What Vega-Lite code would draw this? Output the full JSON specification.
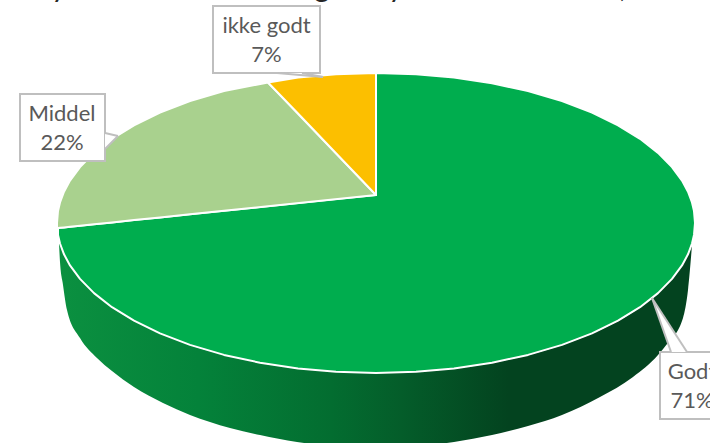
{"$schema":"https://vega.github.io/schema/vega-lite/v6.json","autosize":{"type":"fit","contains":"padding"},"width":710,"height":443,"padding":0,"background":"white","view":{"stroke":null},"config":{"axis":{"disable":true},"legend":{"disable":true}},"datasets":{"side":[{"x":59,"top":243,"bottom":243},{"x":60,"top":243.5,"bottom":262},{"x":63,"top":251,"bottom":285},{"x":67,"top":260,"bottom":310},{"x":80,"top":278.9,"bottom":338},{"x":97,"top":295,"bottom":358},{"x":112,"top":307.2,"bottom":371},{"x":134,"top":320.7,"bottom":387},{"x":163,"top":334.5,"bottom":403},{"x":190,"top":344.9,"bottom":415},{"x":230,"top":356,"bottom":428},{"x":260,"top":362.7,"bottom":435},{"x":297,"top":368.3,"bottom":442},{"x":336,"top":371.8,"bottom":446},{"x":376,"top":373,"bottom":447},{"x":416,"top":371.8,"bottom":446},{"x":454,"top":368.4,"bottom":442},{"x":492,"top":362.7,"bottom":435},{"x":528,"top":354.9,"bottom":426},{"x":562,"top":344.9,"bottom":415},{"x":600,"top":330,"bottom":397},{"x":633,"top":312,"bottom":377},{"x":658,"top":293.1,"bottom":355},{"x":667,"top":284,"bottom":344},{"x":683,"top":263,"bottom":318},{"x":688,"top":254.3,"bottom":290},{"x":692,"top":245,"bottom":245}],"slices":[{"category":"Godt","x":58,"top":228,"bottom":235},{"category":"Godt","x":60,"top":227.8,"bottom":243.5},{"category":"Godt","x":64,"top":227.4,"bottom":254.3},{"category":"Godt","x":70,"top":226.8,"bottom":265.4},{"category":"Godt","x":80,"top":225.7,"bottom":278.9},{"category":"Godt","x":94,"top":224.3,"bottom":293.1},{"category":"Godt","x":112,"top":222.4,"bottom":307.2},{"category":"Godt","x":134,"top":220.1,"bottom":320.7},{"category":"Godt","x":160,"top":217.4,"bottom":333.4},{"category":"Godt","x":190,"top":214.3,"bottom":344.9},{"category":"Godt","x":224,"top":210.8,"bottom":354.9},{"category":"Godt","x":260,"top":207.1,"bottom":362.7},{"category":"Godt","x":298,"top":203.1,"bottom":368.4},{"category":"Godt","x":336,"top":199.1,"bottom":371.8},{"category":"Godt","x":376,"top":195,"bottom":373},{"category":"Godt","x":376,"top":73,"bottom":373},{"category":"Godt","x":416,"top":74.2,"bottom":371.8},{"category":"Godt","x":454,"top":77.6,"bottom":368.4},{"category":"Godt","x":492,"top":83.3,"bottom":362.7},{"category":"Godt","x":528,"top":91.1,"bottom":354.9},{"category":"Godt","x":562,"top":101.1,"bottom":344.9},{"category":"Godt","x":592,"top":112.6,"bottom":333.4},{"category":"Godt","x":618,"top":125.3,"bottom":320.7},{"category":"Godt","x":640,"top":138.8,"bottom":307.2},{"category":"Godt","x":658,"top":152.9,"bottom":293.1},{"category":"Godt","x":672,"top":167.1,"bottom":278.9},{"category":"Godt","x":682,"top":180.6,"bottom":265.4},{"category":"Godt","x":688,"top":191.7,"bottom":254.3},{"category":"Godt","x":692,"top":202.5,"bottom":243.5},{"category":"Godt","x":694,"top":211.1,"bottom":234.9},{"category":"Godt","x":695,"top":223,"bottom":223},{"category":"Middel","x":57,"top":223,"bottom":228},{"category":"Middel","x":58,"top":211,"bottom":228},{"category":"Middel","x":60,"top":202.5,"bottom":227.8},{"category":"Middel","x":64,"top":191.7,"bottom":227.4},{"category":"Middel","x":70,"top":180.6,"bottom":226.8},{"category":"Middel","x":80,"top":167.1,"bottom":225.7},{"category":"Middel","x":94,"top":152.9,"bottom":224.3},{"category":"Middel","x":112,"top":138.8,"bottom":222.4},{"category":"Middel","x":134,"top":125.3,"bottom":220.1},{"category":"Middel","x":160,"top":112.6,"bottom":217.4},{"category":"Middel","x":190,"top":101.1,"bottom":214.3},{"category":"Middel","x":224,"top":91.1,"bottom":210.8},{"category":"Middel","x":268,"top":82.5,"bottom":206.2},{"category":"Middel","x":376,"top":195,"bottom":195},{"category":"ikke godt","x":268,"top":82.5,"bottom":82.5},{"category":"ikke godt","x":298,"top":77.6,"bottom":113.4},{"category":"ikke godt","x":336,"top":74.2,"bottom":153.2},{"category":"ikke godt","x":376,"top":73,"bottom":195}],"boxes":[{"category":"ikke godt","share":7,"label":"ikke godt\n7%","left":213,"right":320,"top":6,"bottom":73,"cx":266.5,"cy":26},{"category":"Middel","share":22,"label":"Middel\n22%","left":20,"right":105,"top":94,"bottom":161,"cx":62,"cy":114},{"category":"Godt","share":71,"label":"Godt\n71%","left":660,"right":724,"top":352,"bottom":419,"cx":692,"cy":372}],"pointers":[{"category":"ikke godt","x":277,"top":73,"bottom":73},{"category":"ikke godt","x":302,"top":73,"bottom":75},{"category":"ikke godt","x":323,"top":77,"bottom":77},{"category":"Middel","x":105,"top":133,"bottom":149},{"category":"Middel","x":118,"top":136,"bottom":136},{"category":"Godt","x":652,"top":298,"bottom":298},{"category":"Godt","x":671,"top":327,"bottom":352},{"category":"Godt","x":687,"top":352,"bottom":352}],"leaders":[{"edge":"a","x":277,"y":73},{"edge":"a","x":323,"y":77},{"edge":"b","x":302,"y":73},{"edge":"b","x":323,"y":77},{"edge":"c","x":105,"y":133},{"edge":"c","x":118,"y":136},{"edge":"d","x":105,"y":149},{"edge":"d","x":118,"y":136},{"edge":"e","x":652,"y":298},{"edge":"e","x":671,"y":352},{"edge":"f","x":652,"y":298},{"edge":"f","x":687,"y":352}],"titleBits":[{"t":"y","x":59,"y":-3},{"t":"g","x":322,"y":-3},{"t":"y","x":396,"y":-3},{"t":",","x":623,"y":-3}]},"encoding":{"x":{"type":"quantitative","scale":{"domain":[0,710],"nice":false,"zero":false},"axis":null},"y":{"type":"quantitative","scale":{"domain":[443,0],"nice":false,"zero":false},"axis":null}},"layer":[{"data":{"name":"titleBits"},"mark":{"type":"text","font":"Lato","fontSize":30,"color":"#262626","align":"center","baseline":"alphabetic","clip":true},"encoding":{"x":{"field":"x"},"y":{"field":"y"},"text":{"field":"t"}}},{"data":{"name":"side"},"mark":{"type":"area","orient":"vertical","clip":true,"interpolate":"monotone","color":{"gradient":"linear","x1":0,"y1":0,"x2":1,"y2":0,"stops":[{"offset":0,"color":"#0b9040"},{"offset":0.22,"color":"#04823a"},{"offset":0.43,"color":"#036d30"},{"offset":0.54,"color":"#045d2a"},{"offset":0.71,"color":"#03431f"},{"offset":1,"color":"#03431f"}]}},"encoding":{"x":{"field":"x"},"y":{"field":"top"},"y2":{"field":"bottom"}}},{"data":{"name":"slices"},"mark":{"type":"area","orient":"vertical","clip":true,"stroke":"white","strokeWidth":2,"strokeJoin":"round"},"encoding":{"x":{"field":"x"},"y":{"field":"top"},"y2":{"field":"bottom"},"color":{"field":"category","type":"nominal","legend":null,"scale":{"domain":["Godt","Middel","ikke godt"],"range":["#00ad4e","#a9d18e","#fcbf00"]}},"order":{"field":"category"}}},{"data":{"name":"boxes"},"mark":{"type":"rect","clip":true,"fill":"white","stroke":"#bfbfbf","strokeWidth":2},"encoding":{"x":{"field":"left"},"x2":{"field":"right"},"y":{"field":"top"},"y2":{"field":"bottom"}}},{"data":{"name":"pointers"},"mark":{"type":"area","orient":"vertical","color":"white"},"encoding":{"x":{"field":"x"},"y":{"field":"top"},"y2":{"field":"bottom"},"detail":{"field":"category"}}},{"data":{"name":"leaders"},"mark":{"type":"line","color":"#bfbfbf","strokeWidth":2},"encoding":{"x":{"field":"x"},"y":{"field":"y"},"detail":{"field":"edge"}}},{"data":{"name":"boxes"},"mark":{"type":"text","font":"Lato","fontSize":22,"color":"#595959","align":"center","baseline":"middle","lineBreak":"\n","lineHeight":29,"clip":true},"encoding":{"x":{"field":"cx"},"y":{"field":"cy"},"text":{"field":"label"}}}]}
